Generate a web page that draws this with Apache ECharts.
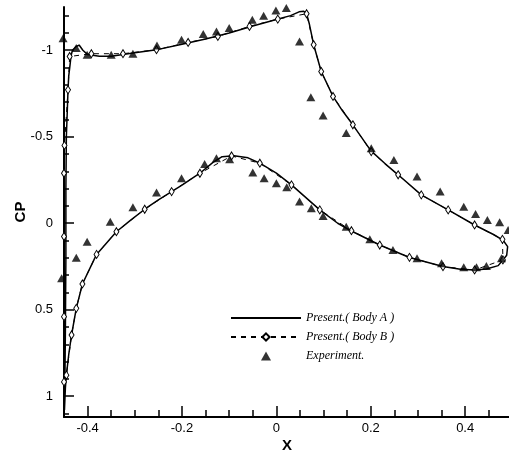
<!DOCTYPE html>
<html>
<head>
<meta charset="utf-8">
<script src="https://cdn.jsdelivr.net/npm/echarts@6/dist/echarts.min.js"></script>
<style>
  html, body { margin: 0; padding: 0; background: #ffffff; }
  #chart { width: 509px; height: 453px; }
</style>
</head>
<body>
<div id="chart"></div>
<script>
// Present (Body A) - solid line, upper surface LE->TE then lower surface TE->LE
const bodyAX = [
  -0.449, -0.448, -0.447, -0.446, -0.446, -0.445, -0.443, -0.4415, -0.440, -0.437,
  -0.435, -0.432, -0.425, -0.418, -0.410, -0.400, -0.375, -0.350, -0.325, -0.300,
  -0.250, -0.200, -0.150, -0.100, -0.050, 0.000, 0.030, 0.048, 0.058, 0.064,
  0.070, 0.079, 0.095, 0.120, 0.140, 0.162, 0.200, 0.230, 0.258, 0.307,
  0.364, 0.420, 0.460, 0.480, 0.490,
  0.488, 0.480, 0.470, 0.445, 0.420, 0.390, 0.353, 0.282, 0.219, 0.159,
  0.130, 0.092, 0.032, 0.000, -0.035, -0.060, -0.090, -0.115, -0.135, -0.162,
  -0.200, -0.222, -0.250, -0.279, -0.310, -0.339, -0.381, -0.411, -0.424, -0.434,
  -0.440, -0.445, -0.447, -0.449
]
const bodyACp = [
  1.08, 0.90, 0.60, 0.20, -0.20, -0.50, -0.65, -0.77, -0.85, -0.92,
  -0.97, -1.00, -1.02, -1.03, -1.00, -0.975, -0.965, -0.965, -0.975, -0.985,
  -1.005, -1.035, -1.065, -1.100, -1.140, -1.178, -1.200, -1.222, -1.225, -1.212,
  -1.150, -1.032, -0.877, -0.733, -0.650, -0.569, -0.420, -0.345, -0.280, -0.164,
  -0.077, 0.010, 0.065, 0.097, 0.135,
  0.185, 0.212, 0.245, 0.265, 0.270, 0.266, 0.250, 0.198, 0.126, 0.045,
  0.000, -0.077, -0.222, -0.290, -0.347, -0.378, -0.390, -0.385, -0.350, -0.289,
  -0.220, -0.183, -0.135, -0.081, -0.015, 0.049, 0.180, 0.351, 0.492, 0.646,
  0.760, 0.878, 0.950, 1.080
]

// Present (Body B) - dashed line with diamond markers
const bodyBX = [
  -0.450, -0.450, -0.450, -0.450, -0.449, -0.4415, -0.438, -0.392, -0.325, -0.254,
  -0.187, -0.124, -0.057, 0.003, 0.064, 0.079, 0.095, 0.120, 0.162, 0.201,
  0.258, 0.307, 0.364, 0.420, 0.479,
  0.480, 0.420, 0.353, 0.282, 0.219, 0.159, 0.092, 0.032, -0.035, -0.095,
  -0.162, -0.222, -0.279, -0.339, -0.381, -0.411, -0.424, -0.434, -0.445
]
const bodyBCp = [
  0.917, 0.540, 0.077, -0.289, -0.450, -0.771, -0.964, -0.980, -0.980, -1.003,
  -1.045, -1.080, -1.138, -1.180, -1.211, -1.032, -0.877, -0.733, -0.569, -0.414,
  -0.280, -0.164, -0.077, 0.010, 0.093,
  0.212, 0.270, 0.251, 0.197, 0.126, 0.043, -0.077, -0.222, -0.347, -0.389,
  -0.289, -0.183, -0.081, 0.049, 0.180, 0.351, 0.492, 0.646, 0.878
]

// Experiment - filled triangles
const expX = [
  -0.452, -0.424, -0.401, -0.350, -0.304, -0.253, -0.201, -0.155, -0.127, -0.100,
  -0.051, -0.027, -0.001, 0.021, 0.049, 0.073, 0.099, 0.148, 0.201, 0.249,
  0.298, 0.347, 0.397, 0.422, 0.447, 0.473, 0.491,
  0.477, 0.445, 0.424, 0.397, 0.350, 0.298, 0.247, 0.198, 0.148, 0.099,
  0.074, 0.049, 0.022, 0.000, -0.026, -0.050, -0.099, -0.127, -0.152, -0.201,
  -0.254, -0.304, -0.352, -0.401, -0.424, -0.455
]
const expCp = [
  -1.070, -1.013, -0.974, -0.974, -0.980, -1.028, -1.061, -1.094, -1.109, -1.128,
  -1.177, -1.200, -1.230, -1.244, -1.051, -0.729, -0.623, -0.521, -0.434, -0.366,
  -0.270, -0.183, -0.096, -0.054, -0.019, -0.006, 0.039,
  0.203, 0.247, 0.255, 0.255, 0.231, 0.203, 0.155, 0.093, 0.020, -0.042,
  -0.087, -0.125, -0.208, -0.231, -0.260, -0.293, -0.370, -0.376, -0.343, -0.260,
  -0.177, -0.093, -0.009, 0.107, 0.199, 0.318
]

const xMajorTicks = [-0.4, -0.2, 0, 0.2, 0.4]
const xMinorTicks = [-0.45, -0.35, -0.3, -0.25, -0.15, -0.1, -0.05, 0.05, 0.1, 0.15, 0.25, 0.3, 0.35, 0.45]
const yMajorTicks = [-1, -0.5, 0, 0.5, 1]
const yMinorTicks = [-1.2, -1.1, -0.9, -0.8, -0.7, -0.6, -0.4, -0.3, -0.2, -0.1,
  0.1, 0.2, 0.3, 0.4, 0.6, 0.7, 0.8, 0.9, 1.1]

const pairs = (xs, ys) => xs.map((x, i) => [x, ys[i]])

const chart = echarts.init(document.getElementById('chart'))

const xRange = { min: -0.45, max: 0.495 }
const yRange = { min: -1.25, max: 1.12 }
const labelFont = { color: '#000', fontFamily: 'Liberation Sans', fontSize: 13 }
const tickStyle = { color: '#000', width: 1.5 }

const option = {
  animation: false,
  backgroundColor: '#ffffff',
  grid: { left: 64, top: 7, width: 446, height: 410, containLabel: false, outerBoundsMode: 'none' },
  legend: {
    orient: 'vertical',
    left: 225,
    top: 307,
    itemWidth: 70,
    itemHeight: 9,
    itemGap: 7,
    textStyle: {
      fontFamily: 'Liberation Serif',
      fontStyle: 'italic',
      fontSize: 12,
      color: '#000'
    },
    data: [
      { name: 'Present.( Body A )', itemStyle: { opacity: 0 } },
      { name: 'Present.( Body B )' },
      { name: 'Experiment.', icon: 'path://M5,0L10,9L0,9Z' }
    ]
  },
  xAxis: [
    {
      type: 'value',
      ...xRange,
      name: 'X',
      nameLocation: 'middle',
      nameGap: 21,
      nameMoveOverlap: false,
      nameTextStyle: { fontFamily: 'Liberation Sans', fontWeight: 'bold', fontSize: 15, color: '#000' },
      axisLine: { onZero: false, lineStyle: { color: '#000', width: 2 } },
      axisTick: { inside: true, length: 11, customValues: xMajorTicks, lineStyle: tickStyle },
      axisLabel: { customValues: xMajorTicks, margin: 5, ...labelFont },
      splitLine: { show: false }
    },
    {
      type: 'value',
      ...xRange,
      position: 'bottom',
      axisLine: { show: false, onZero: false },
      axisTick: { inside: true, length: 7, customValues: xMinorTicks, lineStyle: tickStyle },
      axisLabel: { show: false },
      splitLine: { show: false }
    }
  ],
  yAxis: [
    {
      type: 'value',
      inverse: true,
      ...yRange,
      name: 'CP',
      nameLocation: 'middle',
      nameRotate: 90,
      nameGap: 36,
      nameMoveOverlap: false,
      nameTextStyle: { fontFamily: 'Liberation Sans', fontWeight: 'bold', fontSize: 15, color: '#000' },
      axisLine: { onZero: false, lineStyle: { color: '#000', width: 2 } },
      axisTick: { inside: true, length: 10, customValues: yMajorTicks, lineStyle: tickStyle },
      axisLabel: { customValues: yMajorTicks, margin: 11, ...labelFont },
      splitLine: { show: false }
    },
    {
      type: 'value',
      inverse: true,
      ...yRange,
      position: 'left',
      axisLine: { show: false, onZero: false },
      axisTick: { inside: true, length: 5, customValues: yMinorTicks, lineStyle: tickStyle },
      axisLabel: { show: false },
      splitLine: { show: false }
    }
  ],
  series: [
    {
      name: 'Present.( Body A )',
      type: 'line',
      data: pairs(bodyAX, bodyACp),
      symbol: 'none',
      lineStyle: { color: '#000', width: 1.5 },
      itemStyle: { color: '#000' },
      z: 3
    },
    {
      name: 'Present.( Body B )',
      type: 'line',
      data: pairs(bodyBX, bodyBCp),
      symbol: 'diamond',
      symbolSize: [5, 8],
      lineStyle: { color: '#000', width: 1, type: [5, 5] },
      itemStyle: { color: '#fff', borderColor: '#000', borderWidth: 1 },
      z: 4
    },
    {
      name: 'Experiment.',
      type: 'scatter',
      data: pairs(expX, expCp),
      symbol: 'triangle',
      symbolSize: [9, 8],
      clip: false,
      itemStyle: { color: '#000' },
      z: 5
    }
  ]
}

chart.setOption(option)
</script>
</body>
</html>
